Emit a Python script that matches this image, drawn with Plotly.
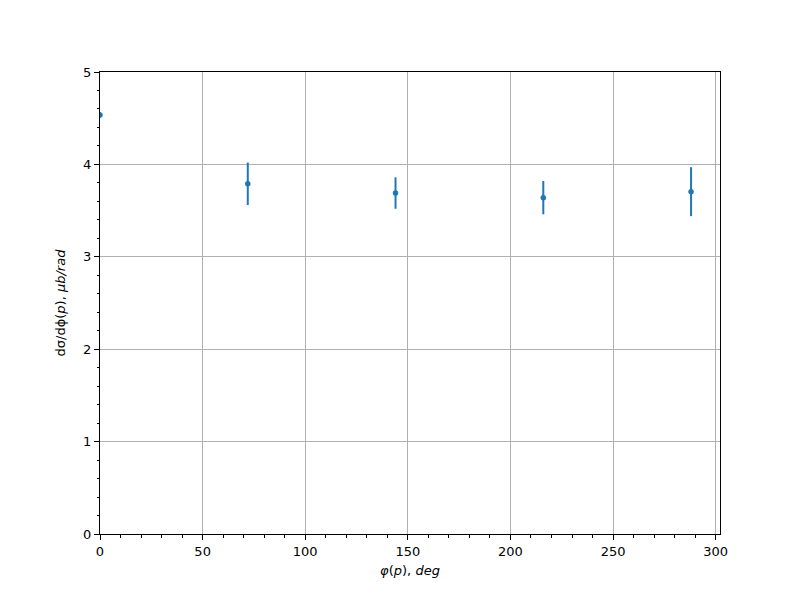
import plotly.graph_objects as go

phi_deg = [0, 72, 144, 216, 288]
dsigma = [4.535, 3.79, 3.69, 3.64, 3.705]
dsigma_err = [0.03, 0.23, 0.17, 0.18, 0.265]

color = "#1f77b4"
fig = go.Figure()
fig.add_trace(go.Scatter(
    x=phi_deg, y=dsigma, mode="markers",
    marker=dict(color=color, size=5.5),
    error_y=dict(type="data", array=dsigma_err, visible=True,
                 color=color, thickness=2, width=0),
    cliponaxis=True,
))

axis_common = dict(
    showline=True, linecolor="black", linewidth=1, mirror=True,
    ticks="outside", ticklen=5, tickwidth=1, tickcolor="black",
    showgrid=True, gridcolor="#b0b0b0", gridwidth=1,
    zeroline=False,
    tickfont=dict(family="DejaVu Sans", size=13, color="black"),
)

fig.update_layout(
    width=800, height=600,
    paper_bgcolor="white", plot_bgcolor="white",
    margin=dict(l=92, r=88, t=64, b=74),
    showlegend=False,
    font=dict(family="DejaVu Sans", size=13, color="black"),
    xaxis=dict(
        range=[0, 302.1], dtick=50, tick0=0,
        minor=dict(ticks="outside", dtick=10, ticklen=2.5, tickcolor="black", showgrid=False),
        title=dict(text="<i>φ</i>(<i>p</i>), <i>deg</i>", standoff=8,
                   font=dict(family="DejaVu Sans", size=13)),
        **axis_common,
    ),
    yaxis=dict(
        range=[0, 5], dtick=1, tick0=0,
        minor=dict(ticks="outside", dtick=0.2, ticklen=2.5, tickcolor="black", showgrid=False),
        title=dict(text="dσ/dϕ(<i>p</i>), <i>μb/rad</i>", standoff=14,
                   font=dict(family="DejaVu Sans", size=13)),
        **axis_common,
    ),
)

fig.write_html("out.html")
